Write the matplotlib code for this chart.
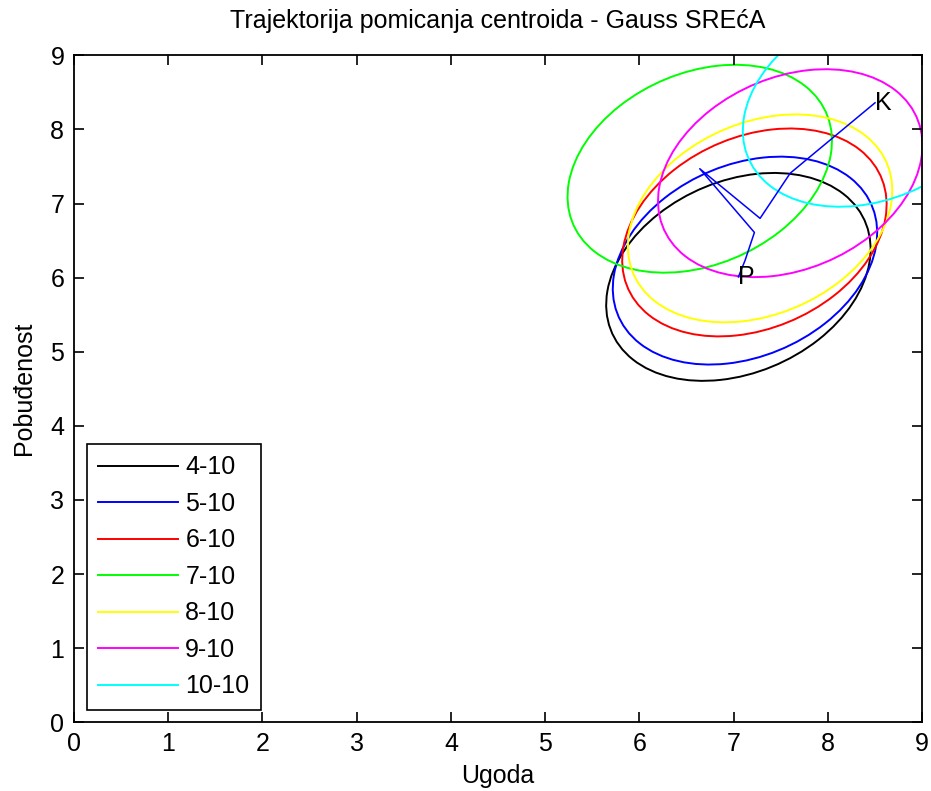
import matplotlib
matplotlib.use('Agg')
import matplotlib.pyplot as plt
from matplotlib.patches import Ellipse

plt.rcParams['font.family'] = ['Liberation Sans Narrow', 'DejaVu Sans Condensed', 'Liberation Sans', 'DejaVu Sans']

# centroid positions per run (Ugoda, Pobudenost)
labels = ['4-10', '5-10', '6-10', '7-10', '8-10', '9-10', '10-10']
ugoda = [7.05, 7.12, 7.22, 6.64, 7.28, 7.60, 8.50]
pobudenost = [6.01, 6.23, 6.61, 7.47, 6.80, 7.41, 8.36]
colors = ['black', 'blue', 'red', 'lime', 'yellow', 'magenta', 'cyan']

# gauss contour shape (same for every centroid)
semi_major = 1.58
semi_minor = 1.20
tilt = 45

FS = 18

fig = plt.figure(figsize=(9.31, 7.91), dpi=100)
ax = fig.add_axes([0.0795, 0.087, 0.911, 0.843])

handles = []
for lab, x, y, c in zip(labels, ugoda, pobudenost, colors):
    e = Ellipse((x, y), 2 * semi_major, 2 * semi_minor, angle=tilt,
                fill=False, edgecolor=c, lw=1.4)
    ax.add_patch(e)
    h, = ax.plot([], [], color=c, lw=1.4, label=lab)
    handles.append(h)

# trajectory of the centroid, start P -> end K
ax.plot(ugoda, pobudenost, color='blue', lw=1.1)
ax.text(ugoda[0], pobudenost[0], 'P', fontsize=FS, va='center', ha='left')
ax.text(ugoda[-1], pobudenost[-1], 'K', fontsize=FS, va='center', ha='left')

ax.set_xlim(0, 9)
ax.set_ylim(0, 9)
ax.set_xticks(range(10))
ax.set_yticks(range(10))
ax.tick_params(direction='in', top=True, right=True, labelsize=FS, length=7, width=1.2, pad=7)
for s in ax.spines.values():
    s.set_linewidth(1.3)

ax.set_title('Trajektorija pomicanja centroida - Gauss SREćA', fontsize=FS, pad=20)
ax.set_xlabel('Ugoda', fontsize=FS, labelpad=6)
ax.set_ylabel('Pobuđenost', fontsize=FS, labelpad=10)

leg = ax.legend(handles=handles, loc='lower left', fontsize=FS, frameon=True,
                fancybox=False, edgecolor='black', framealpha=1,
                handlelength=3.2, handletextpad=0.3, labelspacing=0.5,
                borderpad=0.45, borderaxespad=0.5)
leg.get_frame().set_linewidth(1.2)

fig.savefig('out.png', dpi=100)
